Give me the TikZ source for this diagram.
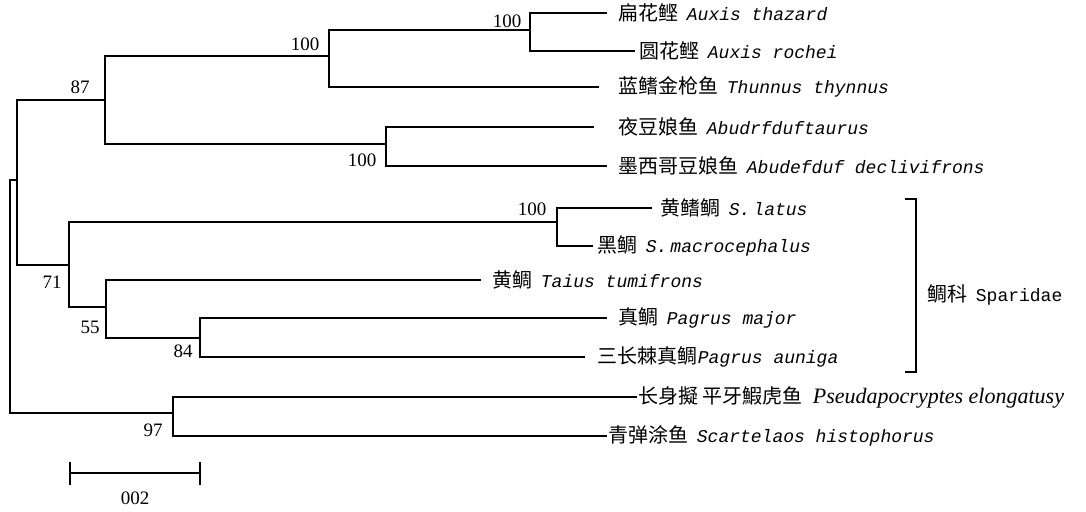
\documentclass[tikz,border=0pt]{standalone}
\usepackage{fontspec}
\setmainfont{Liberation Serif}
\newfontfamily\cjk{Noto Sans CJK SC}
\newfontfamily\lmono{Liberation Mono}
\newcommand{\cnz}[1]{{\cjk #1}}
\newcommand{\spn}[1]{{\lmono\fontsize{18}{22}\selectfont\itshape #1}}
\begin{document}
\begin{tikzpicture}[x=1pt,y=-1pt,line width=1.8pt,
  edge/.style={draw=black,line join=miter},
  leaf/.style={anchor=west,inner sep=0pt,font=\fontsize{20}{24}\selectfont},
  boot/.style={inner sep=0pt,font=\fontsize{19}{22}\selectfont},
]
\useasboundingbox (0,0) rectangle (1086,511);
% inner nodes
\coordinate (root) at (10,296);
\coordinate (nA) at (17,180);
\coordinate (n87) at (105,100);
\coordinate (nTun) at (329,56);
\coordinate (nAux) at (530,30);
\coordinate (nAbu) at (386,144);
\coordinate (n71) at (69,265);
\coordinate (nSpa) at (557,222);
\coordinate (n55) at (106,307);
\coordinate (n84) at (200,338);
\coordinate (n97) at (173,413);
% tips
\coordinate (tAt) at (607,13);
\coordinate (tAr) at (635,51);
\coordinate (tTh) at (599,87);
\coordinate (tAb1) at (594,127);
\coordinate (tAb2) at (607,166);
\coordinate (tSl) at (652,208);
\coordinate (tSm) at (593,246);
\coordinate (tTt) at (481,280);
\coordinate (tPm) at (607,318);
\coordinate (tPa) at (585,357);
\coordinate (tPe) at (637,397);
\coordinate (tSh) at (607,436);
% edges
\draw[edge] (root) |- (nA);
\draw[edge] (root) |- (n97);
\draw[edge] (nA) |- (n87);
\draw[edge] (nA) |- (n71);
\draw[edge] (n87) |- (nTun);
\draw[edge] (n87) |- (nAbu);
\draw[edge] (nTun) |- (nAux);
\draw[edge] (nTun) |- (tTh);
\draw[edge] (nAux) |- (tAt);
\draw[edge] (nAux) |- (tAr);
\draw[edge] (nAbu) |- (tAb1);
\draw[edge] (nAbu) |- (tAb2);
\draw[edge] (n71) |- (nSpa);
\draw[edge] (n71) |- (n55);
\draw[edge] (nSpa) |- (tSl);
\draw[edge] (nSpa) |- (tSm);
\draw[edge] (n55) |- (tTt);
\draw[edge] (n55) |- (n84);
\draw[edge] (n84) |- (tPm);
\draw[edge] (n84) |- (tPa);
\draw[edge] (n97) |- (tPe);
\draw[edge] (n97) |- (tSh);
% leaf labels
\node[leaf] (lAt) at (618,13) {\cnz{扁花鲣}\hspace{8pt}\spn{Auxis thazard}};
\node[leaf] (lAr) at (639,51) {\cnz{圆花鲣}\hspace{8pt}\spn{Auxis rochei}};
\node[leaf] (lTh) at (618,87) {\cnz{蓝鳍金枪鱼}\hspace{8pt}\spn{Thunnus thynnus}};
\node[leaf] (lAb1) at (618,127) {\cnz{夜豆娘鱼}\hspace{8pt}\spn{Abudrfduftaurus}};
\node[leaf] (lAb2) at (618,166) {\cnz{墨西哥豆娘鱼}\hspace{8pt}\spn{Abudefduf declivifrons}};
\node[leaf] (lSl) at (660,208) {\cnz{黄鳍鲷}\hspace{8pt}\spn{S.\,latus}};
\node[leaf] (lSm) at (597,246) {\cnz{黑鲷}\hspace{8pt}\spn{S.\,macrocephalus}};
\node[leaf] (lTt) at (492,280) {\cnz{黄鲷}\hspace{8pt}\spn{Taius tumifrons}};
\node[leaf] (lPm) at (618,318) {\cnz{真鲷}\hspace{8pt}\spn{Pagrus major}};
\node[leaf] (lPa) at (597,357) {\cnz{三长棘真鲷}\spn{Pagrus auniga}};
\node[leaf] (lPe) at (638,397) {\cnz{长身擬\hspace{4pt}平牙鰕虎鱼}\hspace{10pt}{\fontsize{22}{24}\selectfont\itshape Pseudapocryptes elongatusy}};
\node[leaf] (lSh) at (608,436) {\cnz{青弹涂鱼}\hspace{8pt}\spn{Scartelaos histophorus}};
% bootstrap values
\node[boot] (b1) at (507,21) {100};
\node[boot] (b2) at (305,44) {100};
\node[boot] (b3) at (80,87) {87};
\node[boot] (b4) at (362,160) {100};
\node[boot] (b5) at (52,282) {71};
\node[boot] (b6) at (90,327) {55};
\node[boot] (b7) at (183,351) {84};
\node[boot] (b8) at (532,209) {100};
\node[boot] (b9) at (153,430) {97};
% bracket
\coordinate (brT) at (905,199);
\coordinate (brB) at (905,372);
\draw[edge] (brT) -- ++(11,0) |- (brB);
\node[leaf] (fam) at (927,295) {\cnz{鲷科}\hspace{8pt}{\lmono\fontsize{18}{22}\selectfont Sparidae}};
% scale bar
\coordinate (s1) at (70,473);
\coordinate (s2) at (200,473);
\draw[edge] (s1) -- (s2);
\draw[edge] ([yshift=11pt]s1) -- ([yshift=-12pt]s1);
\draw[edge] ([yshift=11pt]s2) -- ([yshift=-12pt]s2);
\node[boot] (sc) at (135,498) {002};
\end{tikzpicture}
\end{document}
